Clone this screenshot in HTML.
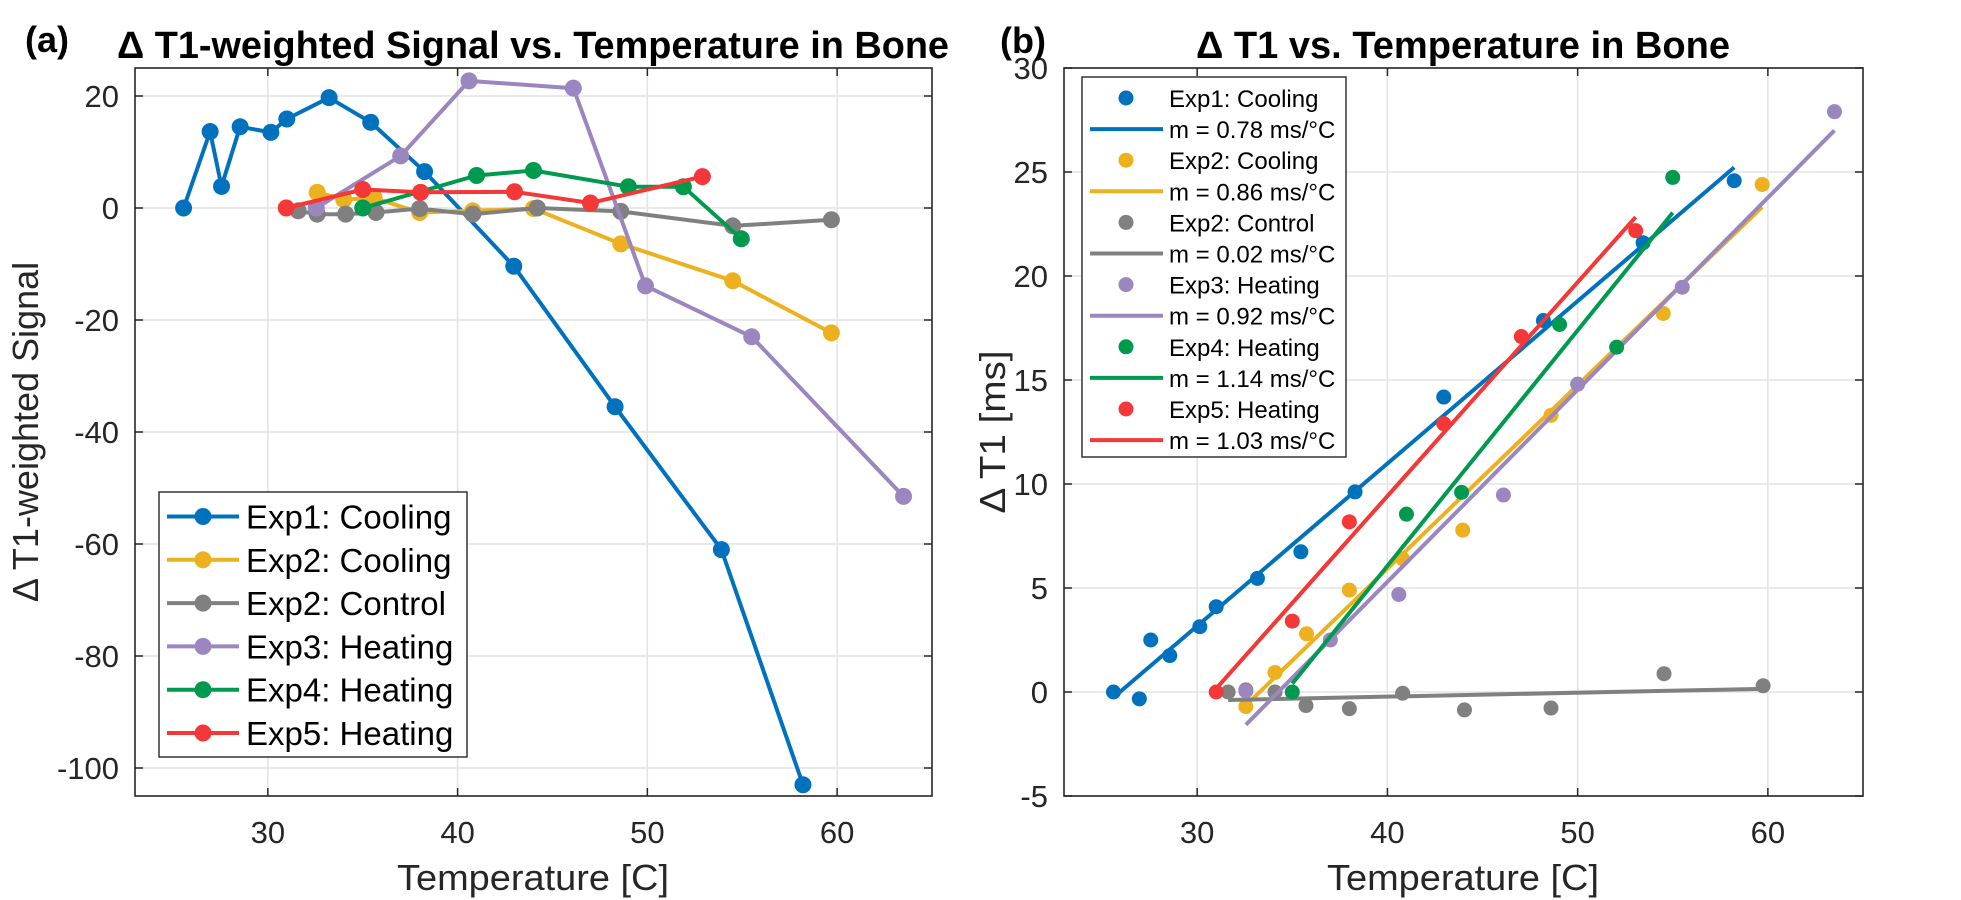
<!DOCTYPE html>
<html><head><meta charset="utf-8"><style>
html,body{margin:0;padding:0;background:#fff;}
svg{display:block;font-family:"Liberation Sans",Arial,sans-serif;}
</style></head><body>
<svg id="fig" width="1961" height="900" viewBox="0 0 1961 900"></svg>
<script>
// ---------- data: panel (a) ----------
const aExp1X = [25.56,26.96,27.56,28.54,30.16,31.0,33.23,35.42,38.26,42.96,48.3,53.9,58.2];
const aExp1Y = [0,13.65,3.85,14.5,13.5,15.9,19.7,15.3,6.5,-10.4,-35.5,-61,-103];
const aExp2cX = [32.6,34.0,35.6,38.0,40.8,44.0,48.6,54.5,59.7];
const aExp2cY = [2.8,1.5,1.8,-0.8,-0.5,-0.1,-6.4,-13.0,-22.3];
const aExp2kX = [31.6,32.6,34.1,35.7,38.0,40.8,44.2,48.6,54.5,59.7];
const aExp2kY = [-0.5,-1.1,-1.1,-0.8,-0.1,-1.1,0.0,-0.6,-3.2,-2.1];
const aExp3X = [32.55,37.0,40.6,46.1,49.9,55.5,63.5];
const aExp3Y = [0,9.3,22.7,21.4,-13.9,-23,-51.5];
const aExp4X = [35.0,41.0,44.0,49.0,51.9,54.95];
const aExp4Y = [0,5.8,6.7,3.8,3.8,-5.5];
const aExp5X = [30.97,35.0,38.05,43.0,47.0,52.9];
const aExp5Y = [0,3.3,2.8,2.9,0.9,5.6];
// ---------- data: panel (b) ----------
const bExp1X = [25.6,26.96,27.56,28.56,30.14,31.0,33.17,35.45,38.3,42.96,48.2,53.44,58.23];
const bExp1Y = [0,-0.33,2.5,1.75,3.14,4.1,5.46,6.74,9.62,14.18,17.86,21.6,24.58];
const bExp2cX = [32.56,34.09,35.75,38.0,40.8,43.96,48.6,54.5,59.7];
const bExp2cY = [-0.7,0.94,2.8,4.9,6.4,7.78,13.3,18.2,24.4];
const bExp2kX = [31.63,32.56,34.09,35.72,38.0,40.8,44.05,48.6,54.54,59.75];
const bExp2kY = [0,0.1,0,-0.65,-0.8,-0.06,-0.86,-0.77,0.88,0.3];
const bExp3X = [32.56,37.0,40.6,46.1,50.0,55.5,63.5];
const bExp3Y = [0.05,2.5,4.69,9.47,14.8,19.46,27.9];
const bExp4X = [35.0,41.0,43.9,49.05,52.05,55.0];
const bExp4Y = [0,8.55,9.6,17.67,16.58,24.74];
const bExp5X = [31.0,35.0,38.0,42.96,47.04,53.05];
const bExp5Y = [0,3.41,8.18,12.9,17.09,22.18];
// ---------- labels / ticks ----------
const xTicks = [30,40,50,60];
const aYTicks = [20,0,-20,-40,-60,-80,-100];
const bYTicks = [-5,0,5,10,15,20,25,30];
const seriesNames = ["Exp1: Cooling","Exp2: Cooling","Exp2: Control","Exp3: Heating","Exp4: Heating","Exp5: Heating"];
const slopeLabels = ["m = 0.78 ms/°C","m = 0.86 ms/°C","m = 0.02 ms/°C","m = 0.92 ms/°C","m = 1.14 ms/°C","m = 1.03 ms/°C"];
const colors = ["#0072BD","#EDB120","#808080","#9C86BF","#009A4E","#F43737"];

const NS="http://www.w3.org/2000/svg";
const svg=document.getElementById('fig');
function mk(tag,attrs,parent){const e=document.createElementNS(NS,tag);for(const k in attrs)e.setAttribute(k,attrs[k]);(parent||svg).appendChild(e);return e;}
function txt(s,attrs,parent){const e=mk('text',attrs,parent);e.textContent=s;return e;}

// axes geometry
const A={l:135,r:932,t:68,b:796,x0:23,x1:65,y0:-105,y1:25};
const B={l:1064,r:1863,t:68,b:796,x0:23,x1:65,y0:-5,y1:30};
function sx(ax,v){return ax.l+(v-ax.x0)/(ax.x1-ax.x0)*(ax.r-ax.l);}
function sy(ax,v){return ax.b-(v-ax.y0)/(ax.y1-ax.y0)*(ax.b-ax.t);}

function drawAxes(ax,yTicks,name){
  const g=mk('g',{});
  
  
  mk('rect',{x:ax.l,y:ax.t,width:ax.r-ax.l,height:ax.b-ax.t,fill:'#fff'},g);
  xTicks.forEach(t=>{const x=sx(ax,t);
    const gl=mk('line',{x1:x,x2:x,y1:ax.t,y2:ax.b,stroke:'#e3e3e3','stroke-width':1.5},g);
    
    });
  yTicks.forEach(t=>{const y=sy(ax,t);
    const gl=mk('line',{x1:ax.l,x2:ax.r,y1:y,y2:y,stroke:'#e3e3e3','stroke-width':1.5},g);
    
    });
  xTicks.forEach(t=>{const x=sx(ax,t);
    mk('line',{x1:x,x2:x,y1:ax.b,y2:ax.b-8,stroke:'#262626','stroke-width':1.5},g);
    mk('line',{x1:x,x2:x,y1:ax.t,y2:ax.t+8,stroke:'#262626','stroke-width':1.5},g);
    const l=txt(String(t),{x:x,y:843,'font-size':31,'text-anchor':'middle',fill:'#262626'},g);
    
    });
  yTicks.forEach(t=>{const y=sy(ax,t);
    mk('line',{x1:ax.l,x2:ax.l+8,y1:y,y2:y,stroke:'#262626','stroke-width':1.5},g);
    mk('line',{x1:ax.r,x2:ax.r-8,y1:y,y2:y,stroke:'#262626','stroke-width':1.5},g);
    const l=txt(String(t).replace('-','-'),{x:ax.l-16,y:y+11,'font-size':31,'text-anchor':'end',fill:'#262626'},g);
    
    });
  const box=mk('rect',{x:ax.l,y:ax.t,width:ax.r-ax.l,height:ax.b-ax.t,fill:'none',stroke:'#262626','stroke-width':1.6},g);
  
  
}
drawAxes(A,aYTicks,'panel-a');
drawAxes(B,bYTicks,'panel-b');

// panel a lines+markers
const aX=[aExp1X,aExp2cX,aExp2kX,aExp3X,aExp4X,aExp5X];
const aY=[aExp1Y,aExp2cY,aExp2kY,aExp3Y,aExp4Y,aExp5Y];
const drawOrder=[0,1,2,3,4,5];
drawOrder.forEach(i=>{
  const pts=aX[i].map((x,k)=>sx(A,x).toFixed(1)+','+sy(A,aY[i][k]).toFixed(1)).join(' ');
  const pl=mk('polyline',{points:pts,fill:'none',stroke:colors[i],'stroke-width':4,'stroke-linejoin':'round'});
  
  
  aX[i].forEach((x,k)=>{
    const c=mk('circle',{cx:sx(A,x),cy:sy(A,aY[i][k]),r:8.5,fill:colors[i]});
    
    
  });
});

// panel b: scatter + least squares fit
const bX=[bExp1X,bExp2cX,bExp2kX,bExp3X,bExp4X,bExp5X];
const bY=[bExp1Y,bExp2cY,bExp2kY,bExp3Y,bExp4Y,bExp5Y];
function fit(xs,ys){const n=xs.length;let mx=0,my=0;for(let i=0;i<n;i++){mx+=xs[i];my+=ys[i];}mx/=n;my/=n;
  let sxy=0,sxx=0;for(let i=0;i<n;i++){sxy+=(xs[i]-mx)*(ys[i]-my);sxx+=(xs[i]-mx)**2;}const m=sxy/sxx;return{m:m,b:my-m*mx};}
drawOrder.forEach(i=>{
  bX[i].forEach((x,k)=>{
    const c=mk('circle',{cx:sx(B,x),cy:sy(B,bY[i][k]),r:7.5,fill:colors[i]});
    
    
  });
  const f=fit(bX[i],bY[i]);
  const xa=Math.min(...bX[i]),xb=Math.max(...bX[i]);
  const ln=mk('line',{x1:sx(B,xa),y1:sy(B,f.m*xa+f.b),x2:sx(B,xb),y2:sy(B,f.m*xb+f.b),stroke:colors[i],'stroke-width':4});
  
  
});

// legend a
const lgA=mk('g',{});


mk('rect',{x:159,y:492,width:308,height:265,fill:'#fff',stroke:'#262626','stroke-width':1.4},lgA);
seriesNames.forEach((s,i)=>{const cy=516.5+i*43.3;
  const e=mk('g',{},lgA);
  
  
  mk('line',{x1:167,x2:239,y1:cy,y2:cy,stroke:colors[i],'stroke-width':4},e);
  mk('circle',{cx:203,cy:cy,r:8.5,fill:colors[i]},e);
  txt(s,{x:246,y:cy+12,'font-size':33,fill:'#000'},e);
});
// legend b
const lgB=mk('g',{});


mk('rect',{x:1082,y:77,width:264,height:380,fill:'#fff',stroke:'#262626','stroke-width':1.4},lgB);
seriesNames.forEach((s,i)=>{const cy1=98+2*i*31.1,cy2=cy1+31.1;
  const e=mk('g',{},lgB);
  
  
  mk('circle',{cx:1126,cy:cy1,r:7.5,fill:colors[i]},e);
  txt(s,{x:1169,y:cy1+9,'font-size':24,fill:'#000'},e);
  mk('line',{x1:1090,x2:1163,y1:cy2,y2:cy2,stroke:colors[i],'stroke-width':4},e);
  txt(slopeLabels[i],{x:1169,y:cy2+9,'font-size':24,fill:'#000'},e);
});

// titles & labels
function label(s,attrs,name){const t=txt(s,attrs);return t;}
label('(a)',{x:25,y:52,'font-size':36,'font-weight':'bold'},'panel-a-tag');
label('(b)',{x:1000,y:53,'font-size':36,'font-weight':'bold'},'panel-b-tag');
label('Δ T1-weighted Signal vs. Temperature in Bone',{x:533,y:58,'font-size':38,'font-weight':'bold','text-anchor':'middle',textLength:832,lengthAdjust:'spacingAndGlyphs'},'panel-a-title');
label('Δ T1 vs. Temperature in Bone',{x:1463,y:58,'font-size':38,'font-weight':'bold','text-anchor':'middle',textLength:534,lengthAdjust:'spacingAndGlyphs'},'panel-b-title');
label('Temperature [C]',{x:533,y:890,'font-size':36,'text-anchor':'middle',fill:'#262626',textLength:272,lengthAdjust:'spacingAndGlyphs'},'panel-a-x-axis-title');
label('Temperature [C]',{x:1463,y:890,'font-size':36,'text-anchor':'middle',fill:'#262626',textLength:272,lengthAdjust:'spacingAndGlyphs'},'panel-b-x-axis-title');
label('Δ T1-weighted Signal',{x:0,y:0,'font-size':36,'text-anchor':'middle',fill:'#262626',transform:'translate(38,432) rotate(-90)'},'panel-a-y-axis-title');
label('Δ T1 [ms]',{x:0,y:0,'font-size':36,'text-anchor':'middle',fill:'#262626',textLength:163,lengthAdjust:'spacingAndGlyphs',transform:'translate(1005,432) rotate(-90)'},'panel-b-y-axis-title');
</script>
</body></html>
